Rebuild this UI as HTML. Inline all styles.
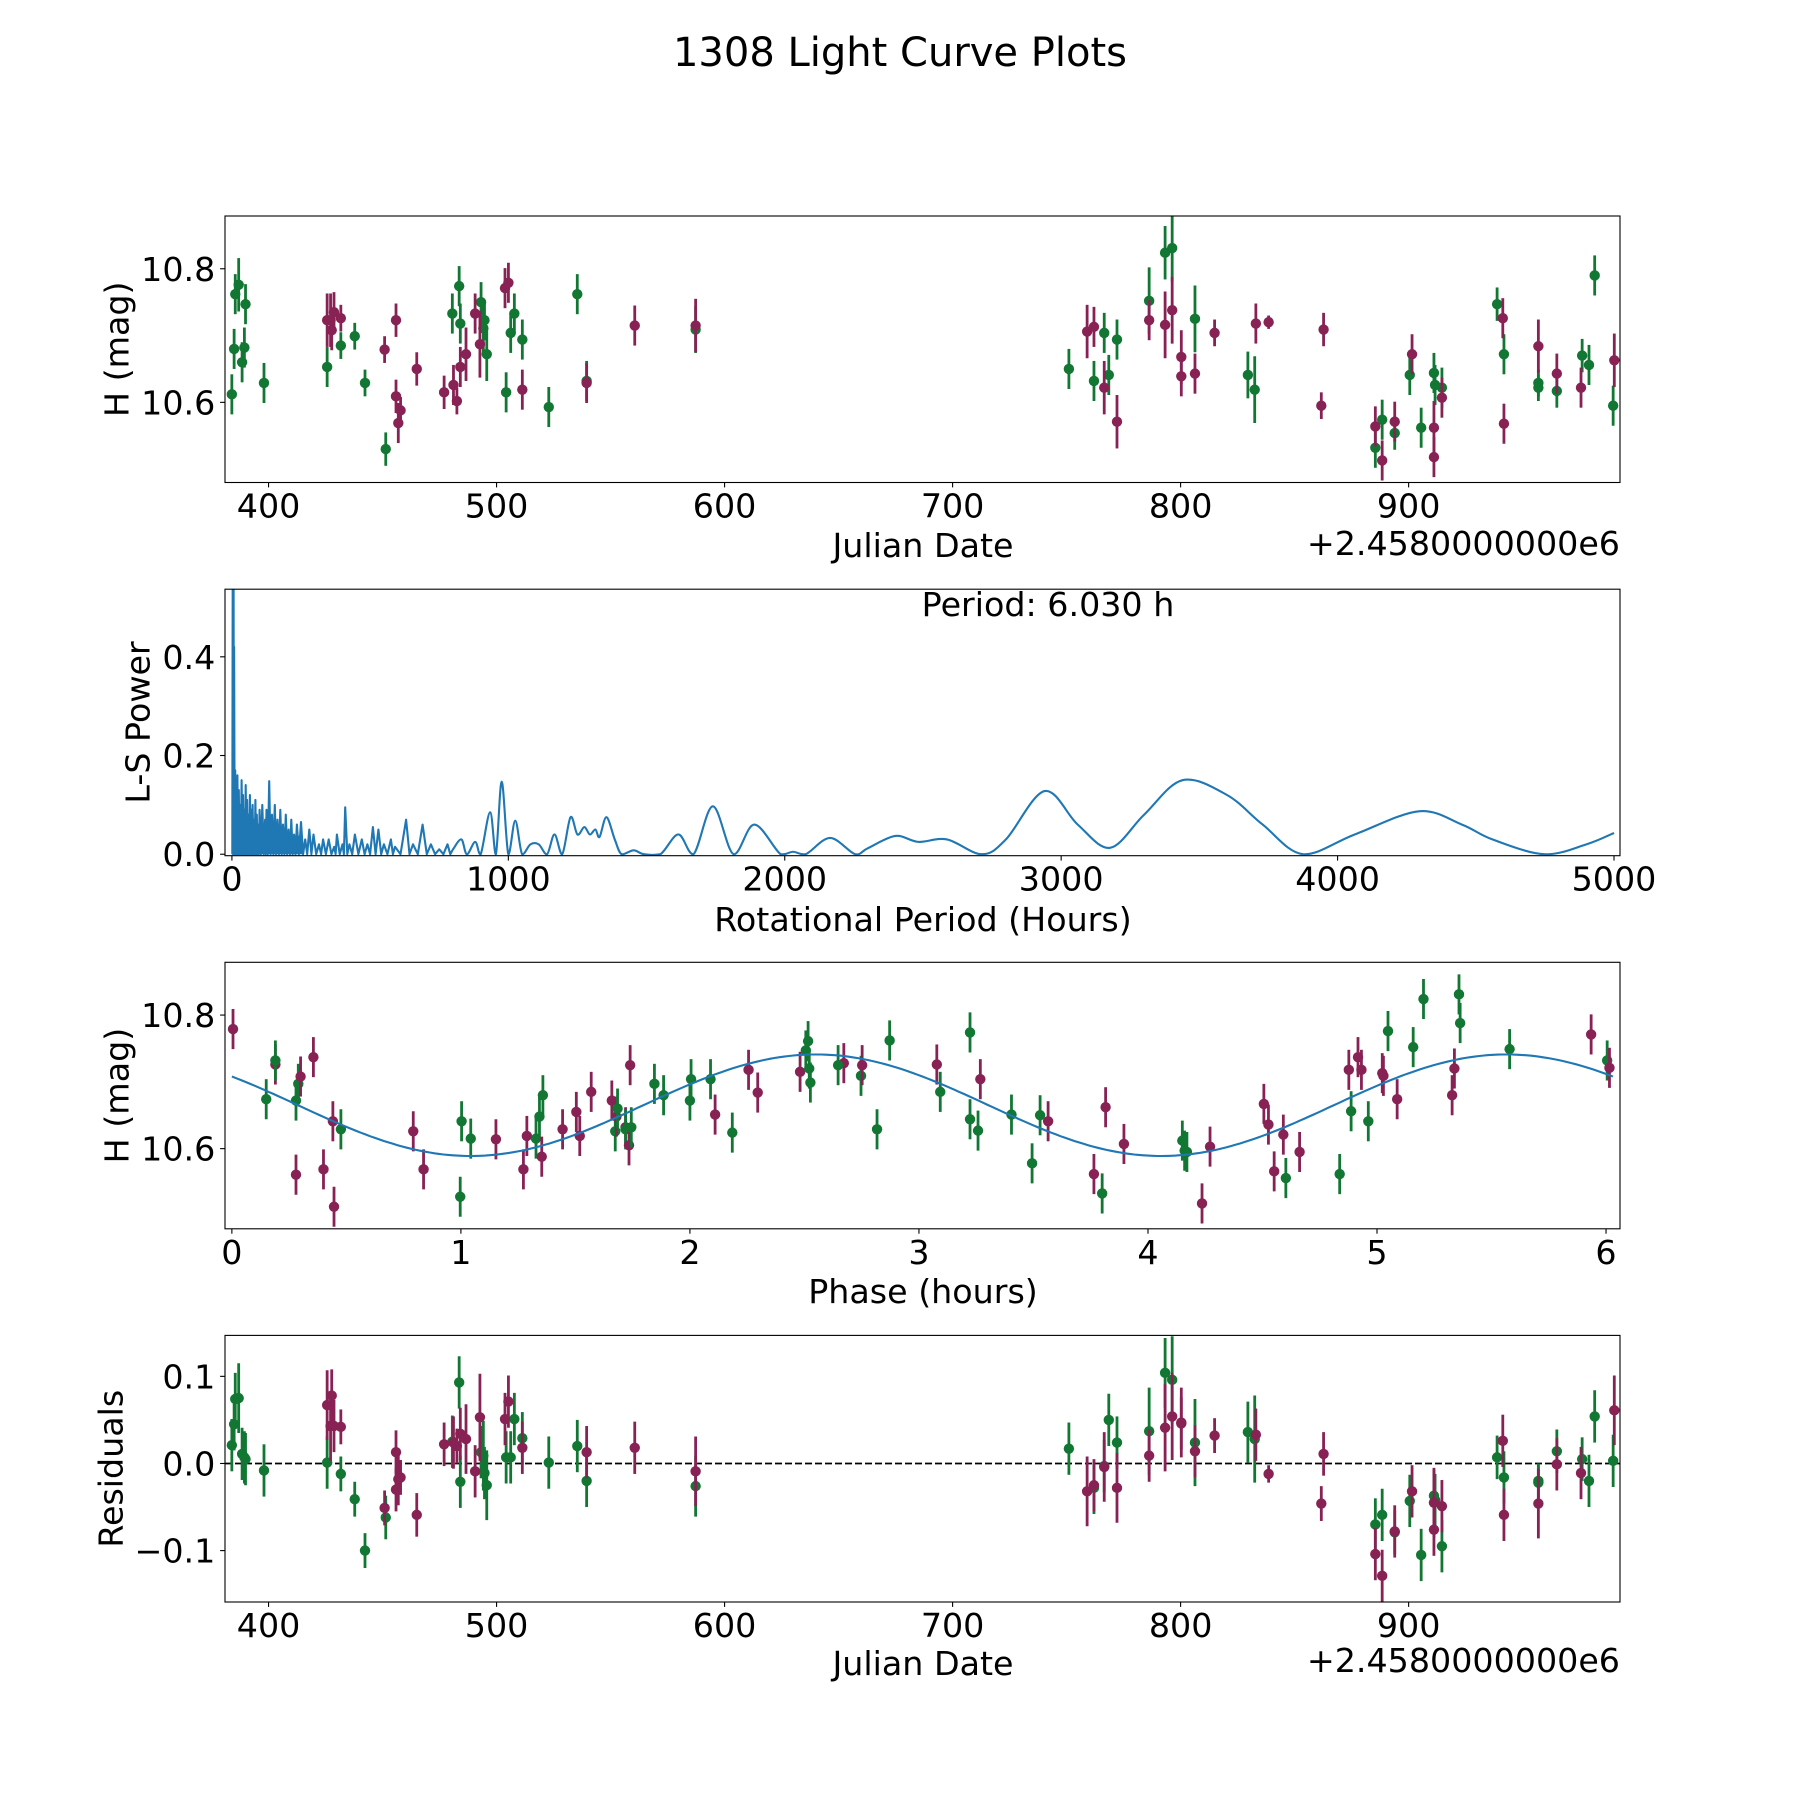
<!DOCTYPE html>
<html><head><meta charset="utf-8"><style>
html,body{margin:0;padding:0;background:#fff;}
svg{display:block;font-family:"DejaVu Sans","Liberation Sans",sans-serif;}
</style></head><body>
<svg id="fig" width="1800" height="1800" viewBox="0 0 1800 1800" xmlns="http://www.w3.org/2000/svg">
<rect width="1800" height="1800" fill="#fff"/>
<text x="900" y="66" font-size="40" text-anchor="middle">1308 Light Curve Plots</text>
</svg>
<script>
// ---------- data ----------
const jdGreen = [383.9,384.9,385.4,386.9,388.4,389.4,389.9,398.0,425.7,431.7,437.8,442.3,451.4,480.6,483.6,484.1,493.2,494.2,494.7,495.7,504.2,506.2,507.8,511.3,522.9,535.4,539.5,587.3,751,762,766.5,768.5,772.1,786.2,793.2,796.3,806.3,829.5,832.5,885.4,888.4,893.9,900.5,905.5,911.1,911.6,914.6,938.8,941.8,956.9,956.9,965,976.1,979.1,981.6,989.7];
const magGreen = [10.612,10.680,10.762,10.776,10.660,10.682,10.747,10.629,10.653,10.685,10.699,10.629,10.530,10.733,10.774,10.718,10.750,10.711,10.723,10.672,10.615,10.704,10.733,10.694,10.593,10.762,10.632,10.709,10.650,10.632,10.704,10.641,10.694,10.752,10.824,10.831,10.725,10.641,10.619,10.532,10.574,10.554,10.641,10.562,10.644,10.626,10.622,10.747,10.672,10.629,10.622,10.617,10.670,10.656,10.790,10.595];
const resGreen = [0.021,0.045,0.074,0.075,0.011,0.007,0.005,-0.008,0.001,-0.012,-0.041,-0.100,-0.062,0.025,0.093,-0.021,0.013,0.009,-0.011,-0.025,0.007,0.007,0.051,0.029,0.001,0.020,-0.020,-0.026,0.017,-0.028,-0.003,0.050,0.024,0.037,0.104,0.096,0.024,0.036,0.028,-0.070,-0.059,-0.079,-0.043,-0.105,-0.037,-0.042,-0.095,0.007,-0.016,-0.020,-0.022,0.014,0.005,-0.020,0.054,0.003];
const errGreen = [0.03,0.03,0.03,0.04,0.03,0.03,0.03,0.03,0.03,0.02,0.02,0.02,0.025,0.03,0.03,0.03,0.03,0.04,0.03,0.04,0.03,0.03,0.03,0.03,0.03,0.03,0.03,0.035,0.03,0.03,0.03,0.03,0.03,0.05,0.04,0.05,0.05,0.035,0.05,0.03,0.03,0.025,0.03,0.03,0.03,0.03,0.03,0.025,0.03,0.02,0.02,0.025,0.025,0.03,0.03,0.03];
const jdMag = [425.7,427.2,427.7,428.7,431.7,450.9,455.9,455.9,456.9,457.9,465,477,481.1,482.6,484.1,486.6,490.6,492.7,503.7,505.2,511.3,539.5,560.6,587.3,759,762,766.5,772.1,786.2,793.2,796.3,800.3,800.3,806.3,814.9,833,838.6,862.7,861.7,885.4,888.4,893.9,901.5,911.1,911.1,914.6,941.3,941.8,956.9,965,975.6,990.2];
const magMag = [10.723,10.723,10.708,10.735,10.726,10.679,10.723,10.609,10.569,10.588,10.650,10.615,10.626,10.602,10.653,10.672,10.733,10.687,10.771,10.779,10.619,10.629,10.715,10.715,10.706,10.713,10.622,10.571,10.723,10.716,10.738,10.668,10.639,10.643,10.704,10.718,10.720,10.709,10.595,10.564,10.513,10.571,10.672,10.562,10.518,10.607,10.726,10.568,10.684,10.643,10.622,10.663];
const resMag = [0.067,0.043,0.078,0.043,0.042,-0.051,0.013,-0.030,-0.018,-0.016,-0.059,0.022,0.024,0.020,0.034,0.028,-0.009,0.053,0.051,0.071,0.018,0.013,0.018,-0.009,-0.032,-0.025,-0.004,-0.028,0.009,0.041,0.054,0.047,0.046,0.014,0.032,0.033,-0.012,0.011,-0.046,-0.104,-0.129,-0.078,-0.032,-0.045,-0.076,-0.049,0.026,-0.059,-0.046,-0.001,-0.011,0.061];
const errMag = [0.04,0.04,0.03,0.03,0.02,0.02,0.025,0.025,0.03,0.02,0.025,0.025,0.03,0.02,0.03,0.04,0.03,0.05,0.03,0.03,0.03,0.03,0.03,0.04,0.04,0.03,0.04,0.04,0.03,0.05,0.05,0.04,0.03,0.03,0.02,0.03,0.01,0.025,0.02,0.03,0.03,0.03,0.03,0.04,0.03,0.03,0.03,0.03,0.04,0.03,0.03,0.04];

const phaseVals = [0.005,0.150,0.19,0.19,0.28,0.28,0.29,0.30,0.356,0.40,0.441,0.446,0.476,0.792,0.837,0.997,1.003,1.043,1.153,1.273,1.288,1.328,1.343,1.353,1.358,1.444,1.504,1.519,1.569,1.659,1.674,1.679,1.684,1.719,1.719,1.734,1.739,1.744,1.845,1.885,2.0,2.005,2.090,2.110,2.185,2.256,2.296,2.481,2.506,2.516,2.521,2.526,2.672,2.647,2.747,2.752,2.817,2.872,3.078,3.093,3.268,3.223,3.223,3.258,3.404,3.494,3.529,3.564,3.764,3.800,3.815,3.895,4.150,4.160,4.170,4.236,4.271,4.506,4.526,4.551,4.591,4.602,4.662,4.837,4.877,4.887,4.917,4.932,4.962,5.023,5.028,5.048,5.088,5.158,5.203,5.328,5.338,5.358,5.363,5.579,5.935,6.005,6.015];
const phaseMags = [10.779,10.674,10.726,10.732,10.561,10.672,10.697,10.708,10.737,10.569,10.641,10.513,10.629,10.626,10.569,10.528,10.641,10.615,10.614,10.569,10.619,10.615,10.648,10.588,10.680,10.629,10.655,10.619,10.685,10.672,10.626,10.648,10.660,10.632,10.629,10.605,10.725,10.632,10.697,10.680,10.672,10.704,10.704,10.651,10.624,10.718,10.684,10.715,10.747,10.761,10.720,10.699,10.728,10.725,10.709,10.725,10.629,10.762,10.726,10.685,10.704,10.774,10.644,10.627,10.651,10.578,10.650,10.641,10.562,10.533,10.662,10.607,10.612,10.597,10.595,10.518,10.603,10.667,10.636,10.566,10.621,10.556,10.595,10.562,10.718,10.656,10.737,10.718,10.641,10.713,10.709,10.776,10.674,10.752,10.824,10.680,10.720,10.831,10.788,10.749,10.771,10.732,10.721];
const phaseColors = "mgmgmggmmm"+"mmgmmgggmm"+"mggmgmmmmm"+"gmgmgmmggg"+"gggmgmmmgg"+"ggmggmggmg"+"mggggggmmg"+"mmgggmmmmm"+"mgmgmgmmgm"+"mgmggmmggg"+"mgm";
const phaseErr = 0.03;

const fitMean = [10.665];
const fitAmp = [0.076];
const fitPeriod = [3.015];
const fitPeak = [2.55];

const lsDensePeriods = [3,6,8,12,15,20,25,30,35,40,45,50,55,60,65,70,75,80,85,90,95,100,110,120,125,135,145,155,165,175,185,195,205,215,225,235,250,265,280,295,315,330,350,370,380,400,410,425,445,470,490,510,530,550,575,590,630,655,690,720,750,780];
const lsDensePower = [0.56,0.56,0.42,0.17,0.12,0.16,0.13,0.10,0.15,0.12,0.09,0.14,0.11,0.08,0.12,0.09,0.10,0.07,0.11,0.08,0.06,0.09,0.10,0.07,0.09,0.148,0.08,0.10,0.07,0.09,0.06,0.08,0.05,0.07,0.04,0.06,0.065,0.03,0.05,0.04,0.02,0.03,0.03,0.015,0.04,0.02,0.095,0.02,0.04,0.03,0.02,0.055,0.05,0.02,0.03,0.015,0.07,0.02,0.06,0.02,0.01,0.02];
const lsPeriods = [800,830,850,880,900,934,955,976,1000,1025,1050,1080,1110,1140,1167,1195,1225,1250,1275,1295,1315,1330,1355,1385,1410,1453,1490,1550,1615,1670,1740,1815,1890,1985,2030,2076,2164,2255,2300,2400,2483,2587,2712,2800,2940,3060,3177,3300,3439,3600,3729,3875,4062,4294,4450,4560,4747,4900,5000];
const lsPower = [0.01,0.03,0.0,0.025,0.0,0.085,0.0,0.147,0.0,0.068,0.0,0.02,0.02,0.0,0.04,0.0,0.075,0.04,0.055,0.04,0.05,0.035,0.075,0.03,0.0,0.008,0.0,0.0,0.04,0.0,0.097,0.0,0.06,0.0,0.005,0.0,0.033,0.0,0.012,0.037,0.025,0.03,0.0,0.03,0.128,0.06,0.013,0.08,0.15,0.12,0.06,0.0,0.04,0.087,0.06,0.03,0.0,0.02,0.043];

const xTicksJD = [400,500,600,700,800,900];
const yTicksMag = [10.6,10.8];
const xTicksLS = [0,1000,2000,3000,4000,5000];
const yTicksLS = [0.0,0.2,0.4];
const xTicksPh = [0,1,2,3,4,5,6];
const yTicksRes = [-0.1,0.0,0.1];

// ---------- helpers ----------
const NS="http://www.w3.org/2000/svg";
const svg=document.getElementById('fig');
const GREEN="#117733", MAGENTA="#882255", BLUE="#1f77b4";
const FS=33.3;
function mk(tag,attrs,parent){const e=document.createElementNS(NS,tag);for(const k in attrs)e.setAttribute(k,attrs[k]);(parent||svg).appendChild(e);return e;}
function scale(d0,d1,p0,p1){return v=>p0+(v-d0)/(d1-d0)*(p1-p0);}
const L=225,R=1620;
const panels=[{t:216,b:482.5},{t:589.2,b:855.7},{t:962.3,b:1228.8},{t:1335.4,b:1602}];

function axes(p,name,xs,ys,xt,yt,xfmt,yfmt,xlabel,ylabel,ylx){
  const g=mk('g',{});
  
  
  const clipId=name+'-clip';
  const cp=mk('clipPath',{id:clipId},g);mk('rect',{x:L,y:p.t,width:R-L,height:p.b-p.t},cp);
  const plot=mk('g',{'clip-path':'url(#'+clipId+')'},g);
  
  
  xt.forEach(v=>{const x=xs(v);
    const tk=mk('line',{x1:x,x2:x,y1:p.b,y2:p.b+4.9,stroke:'#000','stroke-width':1.1},g);
    
    
    const t=mk('text',{x:x,y:p.b+35,'font-size':FS,'text-anchor':'middle'},g);t.textContent=xfmt(v);
    
    });
  yt.forEach(v=>{const y=ys(v);
    const tk=mk('line',{x1:L-4.9,x2:L,y1:y,y2:y,stroke:'#000','stroke-width':1.1},g);
    
    
    const t=mk('text',{x:L-9.7,y:y+12,'font-size':FS,'text-anchor':'end'},g);t.textContent=yfmt(v);
    
    });
  const xl=mk('text',{x:xlabel[1],y:xlabel[2],'font-size':FS,'text-anchor':'middle'},g);xl.textContent=xlabel[0];
  
  
  const cy=(p.t+p.b)/2;
  const yl=mk('text',{x:ylx,y:cy,'font-size':FS,'text-anchor':'middle','dominant-baseline':'central',transform:'rotate(-90 '+ylx+' '+cy+')'},g);yl.textContent=ylabel;
  
  
  return {g,plot,frame:()=>{const f=mk('rect',{x:L,y:p.t,width:R-L,height:p.b-p.t,fill:'none',stroke:'#000','stroke-width':1.1},g);
    
    }};
}
function errPoint(parent,x,y,h,color,nm){
  const gg=mk('g',{},parent);
  
  
  mk('line',{x1:x,x2:x,y1:y-h,y2:y+h,stroke:color,'stroke-width':2.8},gg);
  mk('circle',{cx:x,cy:y,r:5.2,fill:color},gg);
}
const jdFmt=v=>String(v);

// ---------- panel 1 ----------
(function(){
  const p=panels[0];
  const xs=scale(380.9,992.7,L,R), ys=scale(10.480,10.879,p.b,p.t);
  const a=axes(p,'light-curve-panel',xs,ys,xTicksJD,yTicksMag,jdFmt,v=>v.toFixed(1),['Julian Date',923,557],'H (mag)',117);
  jdGreen.forEach((d,i)=>errPoint(a.plot,xs(d),ys(magGreen[i]),ys(10.6)-ys(10.6+errGreen[i]),GREEN,'green-point'));
  jdMag.forEach((d,i)=>errPoint(a.plot,xs(d),ys(magMag[i]),ys(10.6)-ys(10.6+errMag[i]),MAGENTA,'magenta-point'));
  a.frame();
  const o=mk('text',{x:R,y:555,'font-size':FS,'text-anchor':'end'},a.g);o.textContent='+2.4580000000e6';
  
  
})();

// ---------- panel 2 ----------
(function(){
  const p=panels[1];
  const xs=scale(-25,5021.7,L,R), ys=scale(-0.003,0.537,p.b,p.t);
  const a=axes(p,'periodogram-panel',xs,ys,xTicksLS,yTicksLS,v=>String(v),v=>v.toFixed(1),['Rotational Period (Hours)',923,931],'L-S Power',138);
  let fillPts=[[xs(1),ys(0)]];
  lsDensePeriods.forEach((pp,i)=>{if(pp<=260)fillPts.push([xs(pp),ys(lsDensePower[i]*0.6)]);});
  fillPts.push([xs(260),ys(0)]);
  const fp=mk('polygon',{points:fillPts.map(q=>q.join(',')).join(' '),fill:BLUE},a.plot);
  
  
  let pts=[[xs(1),ys(0)]];
  lsDensePeriods.forEach((pp,i)=>{
    const prev=i?lsDensePeriods[i-1]:0;
    pts.push([xs((pp+prev)/2),ys(0)]);
    pts.push([xs(pp),ys(lsDensePower[i])]);
  });
  pts.push([xs(790),ys(0)]);
  let d='M'+pts.map(q=>q[0].toFixed(1)+','+q[1].toFixed(1)).join(' L');
  const sp=lsPeriods.map((pp,i)=>[xs(pp),ys(lsPower[i])]);
  d+=' L'+sp[0][0].toFixed(1)+','+sp[0][1].toFixed(1);
  for(let i=0;i<sp.length-1;i++){
    const p0=sp[Math.max(0,i-1)],p1=sp[i],p2=sp[i+1],p3=sp[Math.min(sp.length-1,i+2)];
    const c1=[p1[0]+(p2[0]-p0[0])/6,p1[1]+(p2[1]-p0[1])/6];
    const c2=[p2[0]-(p3[0]-p1[0])/6,p2[1]-(p3[1]-p1[1])/6];
    c1[1]=Math.min(c1[1],ys(0)+1);c2[1]=Math.min(c2[1],ys(0)+1);
    d+=' C'+c1.join(',')+' '+c2.join(',')+' '+p2.join(',');
  }
  const ln=mk('path',{d:d,fill:'none',stroke:BLUE,'stroke-width':2.1,'stroke-linejoin':'round'},a.plot);
  
  
  a.frame();
  const t=mk('text',{x:1048,y:616,'font-size':FS,'text-anchor':'middle'},a.g);t.textContent='Period: 6.030 h';
  
  
})();

// ---------- panel 3 ----------
(function(){
  const p=panels[2];
  const xs=scale(-0.03,6.061,L,R), ys=scale(10.480,10.879,p.b,p.t);
  const a=axes(p,'phase-panel',xs,ys,xTicksPh,yTicksMag,v=>String(v),v=>v.toFixed(1),['Phase (hours)',923,1303],'H (mag)',117);
  phaseVals.forEach((ph,i)=>{const c=phaseColors[i]==='g'?GREEN:MAGENTA;
    errPoint(a.plot,xs(ph),ys(phaseMags[i]),ys(10.6)-ys(10.6+phaseErr),c,'phase-point');});
  let d='';
  for(let k=0;k<=300;k++){const ph=6.03*k/300;
    const m=fitMean[0]+fitAmp[0]*Math.cos(2*Math.PI*(ph-fitPeak[0])/fitPeriod[0]);
    d+=(k?' L':'M')+xs(ph).toFixed(1)+','+ys(m).toFixed(1);}
  const f=mk('path',{d:d,fill:'none',stroke:BLUE,'stroke-width':2.1},a.plot);
  
  
  a.frame();
})();

// ---------- panel 4 ----------
(function(){
  const p=panels[3];
  const xs=scale(380.9,992.7,L,R), ys=scale(-0.159,0.147,p.b,p.t);
  const a=axes(p,'residuals-panel',xs,ys,xTicksJD,yTicksRes,jdFmt,v=>(v<0?'\u2212'+Math.abs(v).toFixed(1):v.toFixed(1)),['Julian Date',923,1675],'Residuals',111);
  const z=mk('line',{x1:L,x2:R,y1:ys(0),y2:ys(0),stroke:'#000','stroke-width':1.8,'stroke-dasharray':'7,3'},a.plot);
  
  
  jdGreen.forEach((d,i)=>errPoint(a.plot,xs(d),ys(resGreen[i]),ys(0)-ys(errGreen[i]),GREEN,'green-residual'));
  jdMag.forEach((d,i)=>errPoint(a.plot,xs(d),ys(resMag[i]),ys(0)-ys(errMag[i]),MAGENTA,'magenta-residual'));
  a.frame();
  const o=mk('text',{x:R,y:1672,'font-size':FS,'text-anchor':'end'},a.g);o.textContent='+2.4580000000e6';
  
  
})();
</script>
</body></html>
